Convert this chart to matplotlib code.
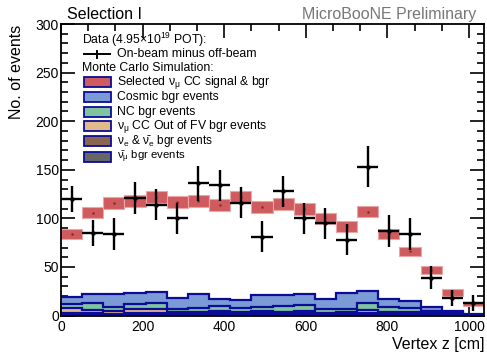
import numpy as np
import matplotlib
matplotlib.use("Agg")
import matplotlib.pyplot as plt
from matplotlib.patches import Rectangle
from matplotlib.lines import Line2D
from matplotlib.ticker import MultipleLocator

plt.rcParams["font.family"] = ["Liberation Sans", "DejaVu Sans"]
plt.rcParams["mathtext.fontset"] = "custom"
plt.rcParams["mathtext.rm"] = "Liberation Sans"
plt.rcParams["mathtext.it"] = "Liberation Sans"

# binning: 20 bins over the TPC length
n_bins = 20
z_max = 1036.8
edges = np.linspace(0, z_max, n_bins + 1)
centers = 0.5 * (edges[:-1] + edges[1:])

# on-beam minus off-beam data
data = [120, 85, 84, 121, 114, 100, 136, 134, 116, 81,
        128, 100, 95, 78, 153, 87, 84, 39, 18, 13]
data_err = [13, 13, 16, 16, 16, 16, 18, 16, 16, 16,
            16, 16, 16, 16, 21, 16, 16, 12, 8, 8]

# total MC prediction (red boxes) and its uncertainty
mc_total = [84, 106, 116, 118, 122, 117, 118, 114, 122, 112,
            115, 110, 100, 92, 107, 84, 66, 47, 24, 12]
mc_err = [5, 6, 6, 6, 6, 6, 6, 6, 6, 6,
          6, 6, 6, 5.5, 6, 5, 5, 4, 3.5, 2.5]

# background components (stacked, bottom to top)
bkg_numubar = [0.8, 0.8, 0.8, 0.8, 0.8, 0.8, 0.8, 1.5, 0.8, 0.8,
               0.8, 1.5, 0.8, 0.8, 1.5, 0.8, 0.8, 0.5, 0.3, 0.1]
bkg_nue = [1.6, 1.4, 1.2, 1.4, 1.4, 1.2, 1.2, 1.1, 1.2, 1.4,
           1.2, 0.9, 1.0, 1.2, 1.0, 1.0, 1.0, 0.7, 0.4, 0.2]
bkg_oofv = [5.1, 3.6, 2.8, 4.6, 5.0, 2.0, 1.8, 2.2, 2.0, 2.6,
            2.0, 1.9, 1.2, 1.6, 3.3, 1.8, 1.5, 1.2, 0.7, 0.3]
bkg_nc = [4.8, 6.7, 3.6, 4.9, 5.3, 3.3, 4.2, 5.0, 4.3, 4.0,
          5.9, 6.3, 3.5, 3.6, 7.2, 5.0, 4.7, 2.4, 1.0, 0.2]
bkg_cosmic = [6.4, 9.7, 13.8, 12.0, 11.5, 10.9, 13.8, 7.7, 8.2, 12.4,
              11.4, 11.4, 10.7, 15.8, 12.8, 8.3, 7.1, 4.4, 2.4, 0.9]

legend_labels = [
    "Selected \u03bd$_{\u03bc}$ CC signal & bgr",
    "Cosmic bgr events",
    "NC bgr events",
    "\u03bd$_{\u03bc}$ CC Out of FV bgr events",
    "\u03bd$_{e}$ & \u03bd\u0304$_{e}$ bgr events",
    "\u03bd\u0304$_{\u03bc}$ bgr events",
]

navy = "#0c0c96"
c_red = "#cf5b5f"
c_cosmic = "#7b9bd6"
c_nc = "#80c3a0"
c_oofv = "#e2b98a"
c_nue = "#8a6552"
c_numubar = "#666666"
legend_colors = [c_red, c_cosmic, c_nc, c_oofv, c_nue, c_numubar]

W, H = 487, 355
fig = plt.figure(figsize=(W / 100, H / 100), dpi=100)


def fx(px):
    return px / W


def fy(py):
    return 1 - py / H


ax = fig.add_axes([fx(61), fy(315.6), fx(484) - fx(61), fy(24) - fy(315.6)])

# stacked backgrounds
layers = [bkg_numubar, bkg_nue, bkg_oofv, bkg_nc, bkg_cosmic]
layer_colors = [c_numubar, c_nue, c_oofv, c_nc, c_cosmic]
cum = np.cumsum(np.array(layers), axis=0)
for i in range(len(layers) - 1, -1, -1):
    base = cum[i - 1] if i > 0 else np.zeros(n_bins)
    ax.stairs(cum[i], edges, baseline=base, fill=True, color=layer_colors[i], zorder=2)
for i in range(len(layers)):
    ax.stairs(cum[i], edges, baseline=None, color=navy, lw=1.6, zorder=3)

# MC total boxes
mc_total = np.array(mc_total)
mc_err = np.array(mc_err)
ax.bar(centers, 2 * mc_err, bottom=mc_total - mc_err, width=np.diff(edges),
       color=c_red, edgecolor="#eaa5a7", lw=0.8, zorder=4)
ax.plot(centers, mc_total, ls="none", marker=".", ms=1.5, color="#7a2a2a", zorder=5)

# data
ax.errorbar(centers, data, yerr=data_err, xerr=np.diff(edges) / 2, fmt="o",
            color="black", ms=2.2, elinewidth=1.7, capsize=0, zorder=6)

ax.set_xlim(0, z_max)
ax.set_ylim(0, 300)
ax.xaxis.set_major_locator(MultipleLocator(200))
ax.xaxis.set_minor_locator(MultipleLocator(200 / 3))
ax.yaxis.set_major_locator(MultipleLocator(50))
ax.yaxis.set_minor_locator(MultipleLocator(10))
ax.tick_params(which="both", direction="in", top=True, right=True,
               labelsize=10, width=1.2, pad=3)
ax.tick_params(which="major", length=10)
ax.tick_params(which="minor", length=5)
ax.tick_params(axis="y", pad=1.5)
for s in ax.spines.values():
    s.set_linewidth(1.3)
    s.set_zorder(10)

# titles and axis labels
fig.text(fx(67), fy(19), "Selection I", fontsize=11.5, va="baseline", ha="left")
fig.text(fx(476), fy(19), "MicroBooNE Preliminary", fontsize=11.5,
         va="baseline", ha="right", color="#777777")
fig.text(fx(17), fy(72), "No. of events", fontsize=11.5, rotation=90,
         ha="center", va="center")
fig.text(fx(485), fy(349), "Vertex z [cm]", fontsize=11.5, ha="right", va="baseline")

# legend drawn by hand
fs = 8.8
rows = [40, 54, 68.3, 82.3, 97.3, 111.7, 126.3, 141.3, 156.5]
fig.text(fx(82), fy(rows[0]), "Data (4.95\u00d710$^{19}$ POT):", fontsize=fs, va="center")
fig.add_artist(Line2D([fx(84), fx(110)], [fy(rows[1]), fy(rows[1])], color="black", lw=1.4))
fig.add_artist(Line2D([fx(97), fx(97)], [fy(rows[1] - 3.5), fy(rows[1] + 3.5)], color="black", lw=1.4))
fig.text(fx(117), fy(rows[1]), "On-beam minus off-beam", fontsize=fs, va="center")
fig.text(fx(82), fy(rows[2]), "Monte Carlo Simulation:", fontsize=fs, va="center")
label_sizes = [fs, fs, fs, fs, 8.5, 8.2]
for k, (lab, col) in enumerate(zip(legend_labels, legend_colors)):
    r = rows[3 + k]
    fig.add_artist(Rectangle((fx(83.5), fy(r + 5)), fx(111) - fx(83.5), fy(r - 5) - fy(r + 5),
                             facecolor=col, edgecolor=navy, lw=1.3))
    fig.text(fx(117), fy(r), lab, fontsize=label_sizes[k], va="center")

fig.savefig("out.png", dpi=100)
